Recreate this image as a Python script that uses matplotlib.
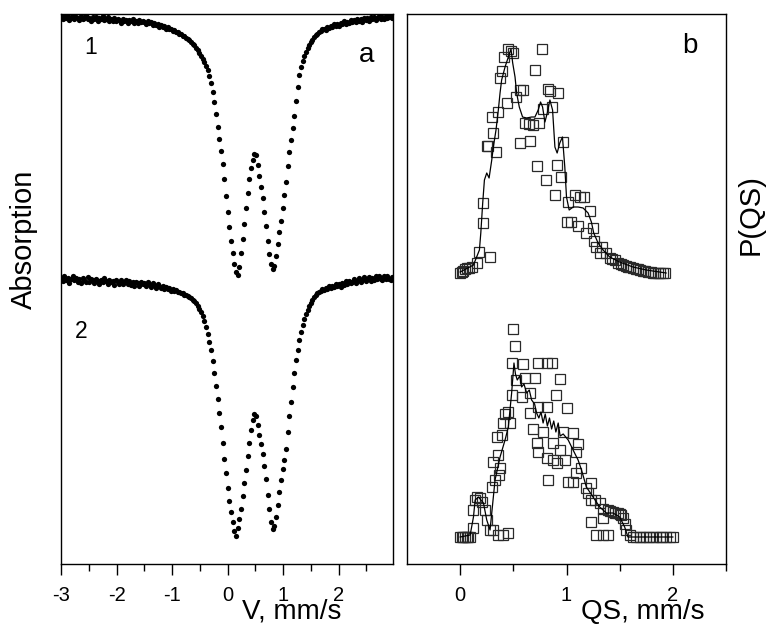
import numpy as np
import matplotlib
matplotlib.use("Agg")
import matplotlib.pyplot as plt

plt.rcParams['font.family'] = ['Liberation Sans', 'DejaVu Sans']

# ---------------- panel a: Mossbauer spectra (velocity channels, step 0.03 mm/s from -3) ----
V_START = -3.0
V_STEP = 0.03

S1 = [
    547, 545, 549, 546, 548, 544, 546, 549, 545, 547,
    546, 544, 548, 545, 546, 549, 545, 546, 543, 547,
    545, 547, 543, 546, 545, 548, 544, 545, 547, 543,
    545, 543, 546, 543, 545, 544, 541, 545, 543, 544,
    541, 544, 543, 545, 541, 543, 541, 544, 542, 543,
    542, 540, 543, 541, 542, 539, 541, 539, 540, 537,
    539, 537, 538, 535, 537, 535, 535, 533, 534, 532,
    532, 530, 530, 528, 528, 526, 525, 524, 522, 520,
    519, 516, 514, 511, 508, 505, 502, 498, 494, 488,
    481, 472, 462, 450, 437, 425, 413, 400, 385, 368,
    352, 337, 323, 311, 300, 292, 289, 297, 311, 325,
    340, 356, 371, 385, 396, 404, 410, 409, 399, 388,
    377, 366, 352, 338, 323, 310, 300, 295, 298, 308,
    320, 332, 343, 356, 369, 382, 398, 412, 424, 436,
    448, 463, 477, 489, 497, 503, 508, 512, 516, 519,
    522, 524, 527, 529, 530, 532,
    533, 535, 535, 534, 537, 536, 538, 537, 540, 538,
    540, 538, 541, 540, 543, 540, 542, 541, 544, 542,
    544, 542, 545, 543, 545, 542, 546, 544, 546, 543,
    547, 545, 547, 544, 546, 548, 545, 547, 545, 548,
    546, 547, 549, 546,
]

S2 = [
    286, 283, 288, 284, 286, 281, 285, 288, 284, 286,
    282, 285, 281, 286, 284, 282, 287, 282, 285, 284,
    281, 285, 283, 280, 284, 282, 286, 283, 280, 284,
    282, 283, 279, 284, 282, 280, 284, 280, 282, 284,
    280, 283, 279, 282, 278, 282, 281, 278, 282, 280,
    281, 278, 282, 280, 277, 281, 279, 276, 280, 278,
    276, 278, 275, 277, 275, 276, 273, 275, 273, 274,
    272, 272, 271, 271, 269, 269, 268, 267, 266, 264,
    263, 261, 258, 255, 252, 248, 243, 237, 230, 222,
    214, 203, 191, 178, 165, 151, 137, 121, 105, 91,
    76, 63, 52, 42, 33, 28, 36, 45, 55, 68,
    81, 94, 108, 121, 134, 144, 150, 148, 139, 129,
    120, 110, 98, 85, 69, 55, 42, 35, 38, 47,
    59, 72, 84, 95, 104, 115, 132, 148, 162, 177,
    191, 204, 214, 224, 232, 239, 245, 250, 254, 258,
    261, 264, 267, 269, 271, 272,
    273, 275, 274, 276, 275, 278, 276, 278, 277, 280,
    278, 280, 277, 281, 279, 283, 280, 283, 281, 282,
    285, 281, 283, 286, 282, 284, 287, 283, 285, 287,
    283, 286, 284, 288, 285, 288, 285, 284, 288, 285,
    288, 285, 284, 287,
]

V = V_START + V_STEP * np.arange(len(S1))

V_TICKS = [-3, -2, -1, 0, 1, 2]
V_TICKLABELS = ['-3', '-2', '-1', '0', '1', '2']
V_MINOR = [-2.5, -1.5, -0.5, 0.5, 1.5, 2.5]

# ---------------- panel b: QS distributions ----------------
Q1_LINE = [0.0, 0.125, 0.181, 0.194, 0.212, 0.228, 0.25, 0.272, 0.297, 0.312,
           0.337, 0.359, 0.375, 0.39, 0.422, 0.453, 0.478, 0.494, 0.516, 0.531,
           0.556, 0.587, 0.625, 0.672, 0.703, 0.734, 0.756, 0.775, 0.797, 0.819,
           0.844, 0.869, 0.891, 0.912, 0.937, 0.962, 0.984, 1.0, 1.025, 1.062,
           1.109, 1.156, 1.203, 1.234, 1.256, 1.297, 1.344, 1.406, 1.5, 1.625,
           1.75, 1.937]
P1_LINE = [292, 299, 314, 331, 361, 384, 391, 386, 404, 417,
           434, 454, 471, 484, 497, 507, 515, 501, 487, 471,
           457, 447, 446, 447, 447, 454, 462, 457, 442, 451,
           464, 454, 417, 411, 421, 427, 397, 367, 354, 357,
           357, 356, 351, 342, 331, 321, 314, 307, 302, 297,
           294, 291]

Q1_PTS = [0.0, 0.015, 0.031, 0.047, 0.062, 0.085, 0.109, 0.156, 0.181, 0.281,
          0.212, 0.219, 0.25, 0.266, 0.337, 0.312, 0.297, 0.359, 0.375, 0.39,
          0.415, 0.453, 0.475, 0.5, 0.437, 0.525, 0.562, 0.587, 0.609, 0.65,
          0.687, 0.744, 0.562, 0.656, 0.766, 0.703, 0.719, 0.806, 0.891, 0.906,
          0.944, 0.781, 0.828, 0.844, 0.922, 0.859, 0.969, 1.016, 1.078, 1.125,
          1.162, 1.219, 1.0, 1.047, 1.109, 1.181, 1.25, 1.256, 1.281, 1.337,
          1.312, 1.375, 1.406, 1.43, 1.453, 1.484, 1.51, 1.531, 1.555, 1.578,
          1.60, 1.625, 1.65, 1.672, 1.695, 1.719, 1.74, 1.766, 1.79, 1.812,
          1.835, 1.859, 1.88, 1.906, 1.93]
P1_PTS = [291, 292, 293, 295, 296, 296, 297, 301, 312, 307,
          341, 361, 418, 418, 412, 431, 447, 452, 486, 493,
          507, 515, 513, 511, 461, 467, 474, 474, 441, 440,
          439, 441, 421, 423, 515, 494, 398, 384, 369, 399,
          387, 455, 475, 473, 471, 457, 422, 362, 369, 367,
          367, 353, 342, 342, 338, 331, 336, 323, 317, 317,
          311, 311, 306, 305, 304, 301, 300, 299, 298, 297,
          297, 296, 295, 295, 294, 293, 293, 292, 292, 291,
          291, 291, 291, 291, 291]

Q2_LINE = [0.0, 0.094, 0.125, 0.141, 0.172, 0.219, 0.25, 0.281, 0.297, 0.328,
           0.375, 0.422, 0.453, 0.484, 0.506, 0.52, 0.537, 0.56, 0.578, 0.60,
           0.625, 0.65, 0.672, 0.70, 0.719, 0.74, 0.76, 0.78, 0.80, 0.82,
           0.84, 0.86, 0.88, 0.90, 0.922, 0.94, 0.969, 1.016, 1.062, 1.109,
           1.141, 1.187, 1.25, 1.312, 1.375, 1.437, 1.5, 1.547, 1.578, 1.687,
           2.0]
P2_LINE = [27, 29, 47, 64, 67, 61, 44, 34, 51, 84,
           107, 124, 137, 171, 201, 190, 184, 188, 177, 180,
           171, 174, 164, 160, 151, 146, 152, 141, 150, 138,
           146, 135, 143, 132, 141, 128, 130, 124, 114, 104,
           94, 77, 67, 57, 51, 51, 47, 37, 27, 27,
           27]

Q2_PTS = [0.5, 0.516, 0.484, 0.587, 0.525, 0.609, 0.703, 0.734, 0.812, 0.859,
          0.937, 0.484, 0.578, 0.656, 0.453, 0.422, 0.406, 0.469, 0.656, 0.734,
          0.812, 0.9, 1.0, 0.344, 0.391, 0.359, 0.312, 0.375, 0.297, 0.687,
          0.781, 0.719, 0.734, 0.875, 0.937, 0.969, 1.062, 1.109, 1.094, 0.812,
          0.875, 0.984, 0.906, 0.828, 1.016, 1.062, 1.087, 1.141, 1.234, 1.187,
          1.203, 1.234, 1.266, 1.312, 1.344, 1.391, 1.437, 1.484, 1.516, 1.344,
          1.234, 1.281, 1.344, 1.391, 0.125, 0.141, 0.156, 0.187, 0.203, 0.234,
          0.25, 0.281, 0.312, 0.359, 0.406, 0.453, 0.125, 0.0, 0.015, 0.031,
          0.045, 0.062, 0.075, 0.094, 1.562, 1.594, 1.625, 1.65, 1.687, 1.72,
          1.75, 1.78, 1.812, 1.84, 1.875, 1.90, 1.937, 1.97, 2.0, 0.328,
          0.369, 1.41, 1.46, 1.50, 1.535, 1.55]
P2_PTS = [235, 218, 201, 200, 184, 186, 186, 201, 201, 201,
          185, 169, 167, 171, 152, 150, 141, 141, 151, 157,
          157, 169, 156, 127, 129, 109, 102, 96, 77, 135,
          132, 121, 112, 121, 114, 132, 131, 120, 112, 106,
          104, 104, 101, 84, 82, 82, 91, 96, 81, 76,
          71, 64, 64, 61, 55, 54, 52, 51, 49, 46,
          42, 29, 29, 29, 54, 64, 67, 66, 62, 54,
          44, 34, 34, 29, 29, 31, 36, 27, 27, 27,
          27, 27, 27, 27, 34, 29, 27, 27, 27, 27,
          27, 27, 27, 27, 27, 27, 27, 27, 27, 84,
          89, 53, 51, 50, 46, 40]

QS_TICKS = [0, 1, 2]
QS_TICKLABELS = ['0', '1', '2']
QS_MINOR = [0.5, 1.5, 2.5]

# ---------------- figure ----------------
W, H = 767, 626
fig = plt.figure(figsize=(W / 100, H / 100), dpi=100)
ax1 = fig.add_axes([61 / W, 62 / H, 332 / W, 550 / H])
ax2 = fig.add_axes([407 / W, 62 / H, 319 / W, 550 / H])

ax1.plot(V, S1, 'o', color='black', ms=3.8, mew=0)
ax1.plot(V, S2, 'o', color='black', ms=3.8, mew=0)
ax1.set_xlim(-3, 2.98)
ax1.set_ylim(0, 550)

ax2.plot(Q1_LINE, P1_LINE, '-', color='black', lw=0.9, zorder=3)
ax2.plot(Q2_LINE, P2_LINE, '-', color='black', lw=0.9, zorder=3)
ax2.plot(Q1_PTS, P1_PTS, 's', mfc='none', mec='#2a2a2a', ms=7.8, mew=0.9, zorder=2)
ax2.plot(Q2_PTS, P2_PTS, 's', mfc='none', mec='#2a2a2a', ms=7.8, mew=0.9, zorder=2)
ax2.set_xlim(-0.5, 2.5)
ax2.set_ylim(0, 550)

for ax, maj, lab, mnr in ((ax1, V_TICKS, V_TICKLABELS, V_MINOR),
                          (ax2, QS_TICKS, QS_TICKLABELS, QS_MINOR)):
    ax.set_xticks(maj)
    ax.set_xticklabels(lab)
    ax.set_xticks(mnr, minor=True)
    ax.set_yticks([])
    ax.tick_params(axis='x', which='major', direction='out', length=8, width=1,
                   labelsize=14.5, pad=8)
    ax.tick_params(axis='x', which='minor', direction='out', length=5, width=1)
    for s in ax.spines.values():
        s.set_linewidth(1.0)

ax1.text(-2.46, 516, '1', fontsize=16.5, ha='center', va='center')
ax1.text(-2.64, 232, '2', fontsize=16.5, ha='center', va='center')
ax1.text(2.50, 509, 'a', fontsize=20, ha='center', va='center')
ax2.text(2.165, 518, 'b', fontsize=20, ha='center', va='center')

fig.text(292 / W, 1 - 619 / H, 'V, mm/s', fontsize=20, ha='center', va='baseline')
fig.text(643 / W, 1 - 619 / H, 'QS, mm/s', fontsize=20, ha='center', va='baseline')
fig.text(24 / W, 1 - 239 / H, 'Absorption', fontsize=21, rotation=90,
         ha='center', va='center')
fig.text(751 / W, 1 - 215 / H, 'P(QS)', fontsize=21, rotation=90,
         ha='center', va='center')

fig.savefig('out.png', dpi=100)
